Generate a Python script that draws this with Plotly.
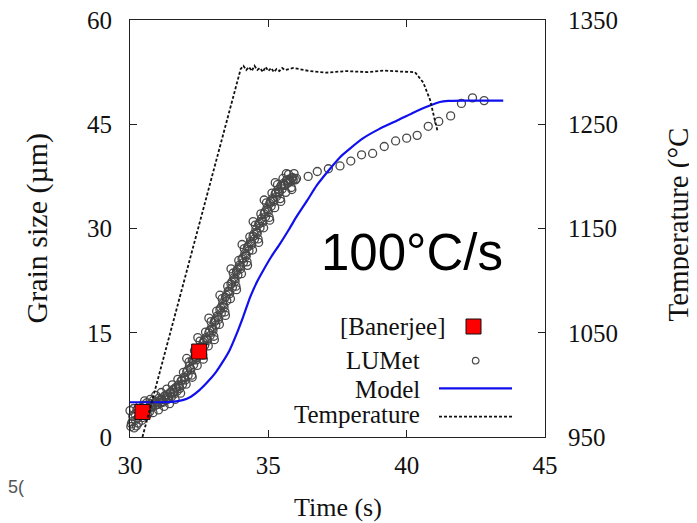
import plotly.graph_objects as go

# ---------------- data ----------------
lumet_t = [29.90, 29.95, 30.00, 30.05, 30.10, 30.15, 30.20, 30.25, 30.30, 30.35,
           30.40, 30.45, 30.50, 30.55, 30.60, 30.65, 30.70, 30.75, 30.80, 30.85,
           30.90, 30.95, 31.00, 31.05, 31.10, 31.15, 31.20, 31.25, 31.30, 31.35,
           31.40, 31.45, 31.50, 31.55, 31.60, 31.65, 31.70, 31.75, 31.80, 31.85,
           31.90, 31.95, 32.00, 32.05, 32.10, 32.15, 32.20, 32.25, 32.30, 32.35,
           32.40, 32.45, 32.50, 32.55, 32.60, 32.65, 32.70, 32.75, 32.80, 32.85,
           32.90, 32.95, 33.00, 33.05, 33.10, 33.15, 33.20, 33.25, 33.30, 33.35,
           33.40, 33.45, 33.50, 33.55, 33.60, 33.65, 33.70, 33.75, 33.80, 33.85,
           33.90, 33.95, 34.00, 34.05, 34.10, 34.15, 34.20, 34.25, 34.30, 34.35,
           34.40, 34.45, 34.50, 34.55, 34.60, 34.65, 34.70, 34.75, 34.80, 34.85,
           34.90, 34.95, 35.00, 35.05, 35.10, 35.15, 35.20, 35.25, 35.30, 35.35,
           35.40, 35.45, 35.50, 35.55, 35.60, 35.65, 35.70, 35.75, 35.80, 35.85,
           35.90,
           36.02, 36.44, 36.77, 37.17, 37.59, 37.98, 38.37, 38.77, 39.19, 39.60,
           40.00, 40.38, 40.78, 41.16, 41.59, 41.98, 42.38, 42.80]
lumet_g = [3.2, 2.6, 3.8, 1.9, 3.0, 1.3, 2.4, 3.9, 2.0, 3.4,
           4.2, 2.8, 4.6, 3.5, 4.9, 4.0, 3.6, 4.8, 4.3, 5.3,
           4.5, 5.1, 4.7, 5.6, 4.9, 5.4, 5.0, 5.9, 5.3, 6.1,
           5.5, 6.4, 5.8, 6.8, 6.2, 7.1, 6.6, 7.5, 7.0, 8.1,
           7.6, 8.6, 8.2, 9.4, 8.9, 10.2, 9.7, 11.0, 10.4, 11.6,
           11.1, 12.3, 11.9, 13.0, 12.6, 13.6, 13.2, 14.3, 13.9, 15.0,
           14.6, 15.8, 15.3, 16.6, 16.1, 17.4, 16.9, 18.3, 17.8, 19.2,
           18.7, 20.1, 19.6, 21.0, 20.6, 22.0, 21.5, 22.9, 22.4, 23.8,
           23.3, 24.7, 24.2, 25.6, 25.1, 26.4, 26.0, 27.3, 26.8, 28.1,
           27.7, 28.9, 28.5, 29.8, 29.3, 30.6, 30.1, 31.4, 30.9, 32.1,
           31.7, 32.9, 32.4, 33.6, 33.2, 34.3, 33.9, 35.0, 34.6, 35.6,
           35.2, 36.1, 35.7, 36.5, 36.2, 36.9, 36.5, 37.1, 36.8, 37.3,
           37.0,
           37.2, 37.5, 38.2, 38.6, 39.0, 39.7, 40.6, 40.8, 41.8, 42.6,
           43.0, 43.4, 44.7, 45.4, 46.2, 48.0, 48.8, 48.4]
# further passes of the LUMet measurement cloud (dense part)
lumet2_t = [30.03, 30.13, 30.23, 30.33, 30.43, 30.53, 30.63, 30.73, 30.83, 30.93,
            31.03, 31.13, 31.23, 31.33, 31.43, 31.53, 31.63, 31.73, 31.83, 31.93,
            32.03, 32.13, 32.23, 32.33, 32.43, 32.53, 32.63, 32.73, 32.83, 32.93,
            33.03, 33.13, 33.23, 33.33, 33.43, 33.53, 33.63, 33.73, 33.83, 33.93,
            34.03, 34.13, 34.23, 34.33, 34.43, 34.53, 34.63, 34.73, 34.83, 34.93,
            35.03, 35.13, 35.23, 35.33, 35.43, 35.53, 35.63, 35.73, 35.83, 35.93]
lumet2_g = [1.5, 4.1, 1.6, 4.4, 2.4, 5.2, 3.2, 5.4, 3.5, 6.0,
            3.9, 6.4, 4.4, 6.9, 4.8, 7.5, 5.4, 8.3, 6.3, 9.3,
            7.6, 10.8, 8.9, 12.4, 10.3, 13.8, 11.8, 15.1, 13.1, 16.6,
            14.5, 18.1, 16.2, 19.9, 18.0, 21.7, 19.9, 23.6, 21.7, 25.4,
            23.5, 27.1, 25.2, 28.8, 26.9, 30.5, 28.5, 32.1, 30.1, 33.7,
            31.6, 35.1, 33.0, 36.3, 34.3, 37.2, 35.2, 37.8, 35.9, 37.9]
lumet3_t = [30.08, 30.18, 30.28, 30.38, 30.48, 30.58, 30.68, 30.78, 30.88, 30.98,
            31.08, 31.18, 31.28, 31.38, 31.48, 31.58, 31.68, 31.78, 31.88, 31.98,
            32.08, 32.18, 32.28, 32.38, 32.48, 32.58, 32.68, 32.78, 32.88, 32.98,
            33.08, 33.18, 33.28, 33.38, 33.48, 33.58, 33.68, 33.78, 33.88, 33.98,
            34.08, 34.18, 34.28, 34.38, 34.48, 34.58, 34.68, 34.78, 34.88, 34.98,
            35.08, 35.18, 35.28, 35.38, 35.48, 35.58, 35.68, 35.78, 35.88, 35.98]
lumet3_g = [2.2, 3.3, 2.7, 3.8, 3.3, 4.5, 4.2, 4.4, 4.9, 4.7,
            5.3, 5.1, 5.8, 5.7, 6.4, 6.4, 7.1, 7.3, 8.2, 8.5,
            9.6, 9.9, 11.1, 11.4, 12.6, 12.8, 13.9, 14.1, 15.3, 15.6,
            16.8, 17.2, 18.6, 19.0, 20.4, 20.9, 22.3, 22.7, 24.1, 24.5,
            25.8, 26.2, 27.5, 27.9, 29.2, 29.5, 30.8, 31.1, 32.4, 32.7,
            33.9, 34.1, 35.2, 35.3, 36.2, 36.3, 36.9, 36.9, 37.3, 37.0]
lumet4_t = [32.05, 32.25, 32.45, 32.65, 32.85, 33.05, 33.25, 33.45, 33.65, 33.85,
            34.05, 34.25, 34.45, 34.65, 34.85, 35.05, 35.25, 35.45, 35.65, 35.85]
lumet4_g = [11.3, 8.6, 14.3, 11.2, 17.1, 14.0, 20.4, 17.5, 24.2, 21.2,
            27.7, 24.7, 31.0, 28.0, 34.1, 31.2, 36.6, 33.9, 37.9, 35.6]

banerjee_t = [30.45, 32.50]
banerjee_g = [3.6, 12.3]

model_t = [30.0, 31.0, 31.5, 31.9, 32.2, 32.5, 32.8, 33.1, 33.35, 33.6,
           33.85, 34.1, 34.35, 34.6, 34.82, 35.1, 35.42, 35.75, 36.02, 36.4,
           36.75, 37.23, 37.6, 37.95, 38.43, 39.0, 39.64, 40.2, 40.84, 41.2,
           41.5, 42.0, 43.49]
model_g = [5.0, 5.0, 5.05, 5.3, 5.8, 6.7, 7.9, 9.3, 10.8, 12.5,
           14.8, 17.4, 20.2, 22.4, 24.0, 25.9, 27.8, 29.9, 31.7, 34.0,
           36.2, 38.6, 40.3, 41.5, 43.0, 44.3, 45.5, 46.6, 47.7, 48.2,
           48.35, 48.4, 48.4]

temp_t = [30.45, 34.0, 34.1, 34.2, 34.3, 34.4, 34.5, 34.6, 34.7, 34.8,
          34.9, 35.0, 35.1, 35.2, 35.3, 35.4, 35.5, 35.6, 35.9, 36.5,
          37.1, 37.8, 38.6, 39.2, 39.8, 40.3, 40.6, 40.85, 41.0, 41.12]
temp_c = [950, 1303, 1306, 1302, 1305, 1301, 1306, 1302, 1304, 1300,
          1305, 1301, 1304, 1300, 1303, 1301, 1304, 1302, 1304, 1301,
          1299.5, 1301, 1300, 1301.5, 1300.5, 1300, 1290, 1273, 1256, 1243]

x_ticks = [30, 35, 40, 45]
y_ticks = [0, 15, 30, 45, 60]
y2_ticks = [950, 1050, 1150, 1250, 1350]

# ---------------- layout helpers ----------------
# page body has an 8px default margin; figure is placed at (8, 8)
OFF = 8
FW, FH = 697, 523
L, R, T, B = 130, 545, 20, 437          # plot area in screen pixels

def px(x):
    return (x - L) / (R - L)

def py(y):
    return (B - y) / (B - T)

SERIF = "Liberation Serif, Times New Roman, serif"
SANS = "Liberation Sans, Arial, sans-serif"
AXC = "#222222"
CIRC = "#484848"
BLUE = "#1010ee"

circ_marker = dict(symbol="circle-open", size=8, color=CIRC,
                   line=dict(width=1.3, color=CIRC))

fig = go.Figure()
for tt, gg in [(lumet_t, lumet_g), (lumet2_t, lumet2_g), (lumet3_t, lumet3_g),
               (lumet4_t, lumet4_g)]:
    fig.add_trace(go.Scatter(x=tt, y=gg, mode="markers", name="LUMet",
                             marker=circ_marker, cliponaxis=False, showlegend=False))
fig.add_trace(go.Scatter(x=model_t, y=model_g, mode="lines", name="Model",
                         line=dict(color=BLUE, width=2.2, shape="spline", smoothing=0.6),
                         showlegend=False))
fig.add_trace(go.Scatter(x=banerjee_t, y=banerjee_g, mode="markers", name="[Banerjee]",
                         marker=dict(symbol="square", size=15, color="#ff0000",
                                     line=dict(width=1, color="#111111")),
                         cliponaxis=False, showlegend=False))
fig.add_trace(go.Scatter(x=temp_t, y=temp_c, mode="lines", name="Temperature",
                         yaxis="y2",
                         line=dict(color="#111111", width=1.8, dash="3px,2px"),
                         showlegend=False))

tickfont = dict(family=SERIF, size=25, color="#111111")
fig.update_layout(
    width=FW, height=FH,
    margin=dict(l=L - OFF, r=FW - (R - OFF), t=T - OFF, b=FH - (B - OFF), pad=0),
    plot_bgcolor="white", paper_bgcolor="white",
    xaxis=dict(range=[30, 45], tickvals=x_ticks, ticks="inside", ticklen=7,
               tickcolor=AXC, showline=True, linecolor=AXC, linewidth=1.2,
               mirror="ticks", showgrid=False, zeroline=False, automargin=False,
               ticklabeloverflow="allow",
               tickfont=tickfont, ticklabelstandoff=6),
    yaxis=dict(range=[0, 60], tickvals=y_ticks, ticks="inside", ticklen=7,
               tickcolor=AXC, showline=True, linecolor=AXC, linewidth=1.2,
               mirror=True, showgrid=False, zeroline=False, automargin=False,
               ticklabeloverflow="allow",
               tickfont=tickfont, ticklabelstandoff=12),
    yaxis2=dict(range=[950, 1350], tickvals=y2_ticks, ticks="inside", ticklen=7,
                tickcolor=AXC, overlaying="y", side="right", showline=False,
                showgrid=False, zeroline=False, automargin=False,
                ticklabeloverflow="allow", tickfont=tickfont,
                ticklabelstandoff=22),
)

ann = []
ann.append(dict(text="Grain size (µm)", x=px(36), y=py(228.5), xref="paper", yref="paper",
                textangle=-90, showarrow=False, xanchor="center", yanchor="middle",
                font=dict(family=SERIF, size=30, color="#111111")))
ann.append(dict(text="Temperature (°C", x=px(678), y=py(224.5), xref="paper", yref="paper",
                textangle=-90, showarrow=False, xanchor="center", yanchor="middle",
                font=dict(family=SERIF, size=29, color="#111111")))
ann.append(dict(text="Time (s)", x=px(337.5), y=py(507), xref="paper", yref="paper",
                showarrow=False, xanchor="center", yanchor="middle",
                font=dict(family=SERIF, size=26, color="#111111")))
ann.append(dict(text="100°C/s", x=px(412), y=py(252), xref="paper", yref="paper",
                showarrow=False, xanchor="center", yanchor="middle",
                font=dict(family=SANS, size=51, color="#000000")))
ann.append(dict(text="5(", x=px(OFF - 2), y=py(487), xref="paper", yref="paper",
                showarrow=False, xanchor="left", yanchor="middle",
                font=dict(family=SANS, size=18, color="#555555")))
# legend texts
leg_font = dict(family=SERIF, size=25, color="#111111")
for txt, xr, yc in [("[Banerjee]", 447, 326), ("LUMet", 421.7, 360),
                    ("Model", 421.7, 389), ("Temperature", 421.7, 414)]:
    ann.append(dict(text=txt, x=px(xr), y=py(yc), xref="paper", yref="paper",
                    showarrow=False, xanchor="right", yanchor="middle", font=leg_font))
fig.update_layout(annotations=ann)

shapes = []
shapes.append(dict(type="rect", xref="paper", yref="paper",
                   x0=px(466), x1=px(481), y0=py(334), y1=py(319),
                   fillcolor="#ff0000", line=dict(color="#111111", width=1)))
shapes.append(dict(type="circle", xref="paper", yref="paper",
                   x0=px(472.4), x1=px(479), y0=py(364), y1=py(357.4),
                   line=dict(color=CIRC, width=1.2)))
shapes.append(dict(type="line", xref="paper", yref="paper",
                   x0=px(439), x1=px(512), y0=py(388.3), y1=py(388.3),
                   line=dict(color=BLUE, width=2.2)))
shapes.append(dict(type="line", xref="paper", yref="paper",
                   x0=px(439), x1=px(512), y0=py(416.7), y1=py(416.7),
                   line=dict(color="#111111", width=1.8, dash="3px,2px")))
fig.update_layout(shapes=shapes)

fig.write_html("out.html")
